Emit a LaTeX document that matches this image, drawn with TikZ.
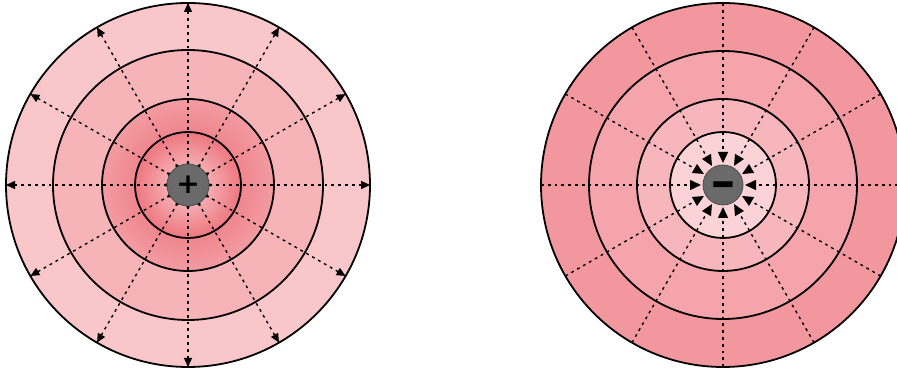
\documentclass[tikz,border=0pt]{standalone}
\usepackage{fontspec}
\newfontfamily\signfont{DejaVu Sans}
\usetikzlibrary{arrows.meta}
\definecolor{lA}{HTML}{F9C6CA}
\definecolor{lB}{HTML}{F6B3B8}
\definecolor{lC1}{HTML}{F5ACB1}
\definecolor{lC2}{HTML}{EE7880}
\definecolor{lC3}{HTML}{EF868E}
\definecolor{lC4}{HTML}{F39CA2}
\definecolor{rA}{HTML}{F1979D}
\definecolor{rB}{HTML}{F4A4AA}
\definecolor{rC}{HTML}{F7B6BB}
\definecolor{rD}{HTML}{FBD3D6}
\definecolor{chargegray}{HTML}{6A6A6A}
\pgfdeclareradialshading{leftin}{\pgfpointorigin}{color(0bp)=(lC1); color(6bp)=(lC1); color(15.2bp)=(lC2); color(15.5bp)=(lC3); color(25bp)=(lC4); color(50bp)=(lC4)}
\tikzset{
  ring/.style={line width=1.8pt, draw=black},
  fieldline/.style={line width=1.4pt, dash pattern=on 2.8pt off 4pt, black},
  outtip/.style={-{Triangle[length=9pt,width=8pt]}},
  intip/.style={-{Triangle[length=11pt,width=10pt]}},
  ticktip/.style={-{Triangle[length=3pt,width=3.5pt]}},
  charge/.style={circle, fill=chargegray, draw=black!70, line width=0.8pt, minimum size=42pt, inner sep=0pt, font=\signfont\bfseries\fontsize{28}{28}\selectfont}
}
\begin{document}
\begin{tikzpicture}[x=1pt,y=1pt]
\useasboundingbox[fill=white] (0,0) rectangle (897,371);
\coordinate (cL) at (188,186);
\coordinate (cR) at (723,186);
% left rings
\fill[lA] (cL) circle (182);
\fill[lB] (cL) circle (135);
\shade[shading=leftin] (cL) circle (86);
\foreach \r in {182,135,86,53} \draw[ring] (cL) circle (\r);
% right rings
\fill[rA] (cR) circle (182);
\fill[rB] (cR) circle (134);
\fill[rC] (cR) circle (86);
\fill[rD] (cR) circle (53);
\foreach \r in {182,134,86,53} \draw[ring] (cR) circle (\r);
% left field lines
\foreach \a in {0,30,...,330} {
  \draw[fieldline,outtip] ([shift={(\a:21)}]cL) -- ([shift={(\a:182)}]cL);
  \draw[line width=0.6pt,ticktip] ([shift={(\a:20)}]cL) -- ([shift={(\a:24.5)}]cL);
}
% right field lines
\foreach \a in {0,30,...,330} {
  \draw[fieldline,intip] ([shift={(\a:182)}]cR) -- ([shift={(\a:22)}]cR);
}
\node[charge] (qL) at (cL) {+};
\node[charge, minimum size=40pt] (qR) at (cR) {\raisebox{-16pt}[0pt][0pt]{\scalebox{1.1}[1.8]{−}}};
\end{tikzpicture}
\end{document}
